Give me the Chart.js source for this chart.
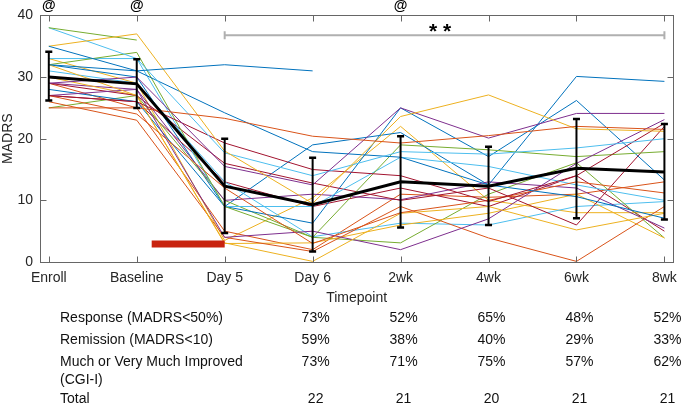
<!DOCTYPE html>
<html>
<head>
<meta charset="utf-8">
<script src="https://cdn.jsdelivr.net/npm/chart.js@4.4.1/dist/chart.umd.min.js"></script>
<style>
  html, body { margin: 0; padding: 0; background: #fff; }
</style>
</head>
<body>
<canvas id="MadrsChart" width="685" height="405"></canvas>
<script>
var Timepoints = ['Enroll', 'Baseline', 'Day 5', 'Day 6', '2wk', '4wk', '6wk', '8wk'];

// group mean and error bar ends
var MeanMadrs = [30, 28.9, 12.3, 9.3, 13, 12.3, 15.2, 14.6];
var ErrLow = [26.2, 25, 4.7, 1.7, 5.6, 6.0, 7.1, 6.9];
var ErrHigh = [34.1, 32.9, 20, 16.9, 20.4, 18.7, 23.2, 22.4];

// individual subjects (null = missing visit)
var Subjects = [
  [35, 31, 32, 31, null, null, null, null],
  [25, 25, 23.3, 20.4, 19.3, 20.5, 22, 21.5],
  [35, 37, 18, 9.5, 23.6, 27.1, 21.6, 21.2],
  [29, 30, 15.5, 12.5, 25, 20.1, 24.1, 24.1],
  [38, 36, null, null, null, null, null, null],
  [38, 33, 17.7, 14, 17.9, 17.5, 18.5, 20],
  [27, 26, 19.3, 15, 14, 9.8, 14, 22.5],
  [32, 31, 24.2, 17.9, 17, 12.5, 10.6, 7.1],
  [27, 24, 12, 3, 8, 10, 13, 11.2],
  [32, 27, 3.1, 0.1, 7.9, 9, 5.2, 7.9],
  [27, 28, 4, 5, 2, 7, 16, 23.1],
  [32, 34, 9, 4, 19, 18.2, 17.1, 17.9],
  [33, 33, 9, 9, 17, 15.5, 12.5, 10],
  [29, 27, 16, 12.8, 10, 12, 6, 22],
  [28, 26, 9, 6.3, 25, 17.1, 26.2, 13.3],
  [26, 23, 4, 1.7, 9, 3.9, 0.1, 9],
  [30, 27, 3, 3.1, 6, 7.9, 11, 3.9],
  [29, 28, 10, 11, 10.1, 13, 12, 5.5],
  [25, 27, 10, 4, 3.1, 11, 16.1, 3.9],
  [31, 29, 13, 4.1, 6.3, 6, 9, 9.8],
  [27, 26, 13, 9, 12, 9, 14, 5],
  [32, 30, 9, 19, 21, 12.5, 30.1, 29.3],
  [29, 25, 5, 2, 11, 10.5, 11, 13],
  [33, 29, 3.5, 10.4, 22, 10, 8, 8]
];
var LineColors = ['#0072BD', '#D95319', '#EDB120', '#7E2F8E', '#77AC30', '#4DBEEE', '#A2142F'];

// dosing bar and significance marks
var DoseBarX = [1.17, 2];
var DoseBarY = 2.9;
var AtMarks = [0, 1, 4];
var BracketX = [2, 7];
var BracketY = 36.8;

// table under the plot
var TableCols = [3, 4, 5, 6, 7];
var Response = ['73%', '52%', '65%', '48%', '52%'];
var Remission = ['59%', '38%', '40%', '29%', '33%'];
var Improved = ['73%', '71%', '75%', '57%', '62%'];
var Totals = ['22', '21', '20', '21', '21'];

var FONT = "'Liberation Sans', Arial, Helvetica, sans-serif";
var AXIS = '#262626';

function toPoints(arr) {
  return arr.map(function (v, i) { return { x: i, y: v }; });
}

var datasets = [{
  data: toPoints(MeanMadrs),
  borderColor: '#000',
  borderWidth: 3,
  pointRadius: 0
}, {
  data: [{ x: DoseBarX[0], y: DoseBarY }, { x: DoseBarX[1], y: DoseBarY }],
  borderColor: '#C8230F',
  borderWidth: 7,
  borderCapStyle: 'butt',
  pointRadius: 0
}];
Subjects.forEach(function (s, i) {
  datasets.push({
    data: toPoints(s),
    borderColor: LineColors[i % LineColors.length],
    borderWidth: 1,
    pointRadius: 0,
    spanGaps: false
  });
});

var extras = {
  id: 'extras',
  afterDatasetsDraw: function (chart) {
    var ctx = chart.ctx;
    var x = chart.scales.x, y = chart.scales.y;
    var a = chart.chartArea;
    ctx.save();

    // error bars
    ctx.strokeStyle = '#000';
    for (var i = 0; i < MeanMadrs.length; i++) {
      var px = x.getPixelForValue(i);
      var lo = y.getPixelForValue(ErrLow[i]);
      var hi = y.getPixelForValue(ErrHigh[i]);
      ctx.lineWidth = 2;
      ctx.beginPath();
      ctx.moveTo(px, lo); ctx.lineTo(px, hi);
      ctx.stroke();
      ctx.lineWidth = 2.5;
      ctx.beginPath();
      ctx.moveTo(px - 3.5, lo); ctx.lineTo(px + 3.5, lo);
      ctx.moveTo(px - 3.5, hi); ctx.lineTo(px + 3.5, hi);
      ctx.stroke();
    }

    // box and inward ticks
    ctx.strokeStyle = '#666';
    ctx.lineWidth = 1;
    var L = Math.round(a.left) + 0.5, R = Math.round(a.right) + 0.5;
    var T = Math.round(a.top) + 0.5, B = Math.round(a.bottom) + 0.5;
    ctx.strokeRect(L, T, R - L, B - T);
    ctx.beginPath();
    for (var k = 0; k < Timepoints.length; k++) {
      var tx = Math.round(x.getPixelForValue(k)) + 0.5;
      ctx.moveTo(tx, B); ctx.lineTo(tx, B - 6);
      ctx.moveTo(tx, T); ctx.lineTo(tx, T + 6);
    }
    for (var v = 0; v <= 40; v += 10) {
      var ty = Math.round(y.getPixelForValue(v)) + 0.5;
      ctx.moveTo(L, ty); ctx.lineTo(L + 6, ty);
      ctx.moveTo(R, ty); ctx.lineTo(R - 6, ty);
    }
    ctx.stroke();

    // significance bracket
    var by = y.getPixelForValue(BracketY);
    var bx0 = x.getPixelForValue(BracketX[0]), bx1 = x.getPixelForValue(BracketX[1]);
    ctx.strokeStyle = '#b0b0b0';
    ctx.lineWidth = 2;
    ctx.beginPath();
    ctx.moveTo(bx0, by); ctx.lineTo(bx1, by);
    ctx.moveTo(bx0, by - 4); ctx.lineTo(bx0, by + 4);
    ctx.moveTo(bx1, by - 4); ctx.lineTo(bx1, by + 4);
    ctx.stroke();

    ctx.fillStyle = '#000';
    ctx.textAlign = 'center';
    ctx.textBaseline = 'alphabetic';
    ctx.font = 'bold 21px ' + FONT;
    ctx.fillText('* *', x.getPixelForValue(4.45), 38);

    ctx.font = 'bold 14px ' + FONT;
    ctx.textBaseline = 'middle';
    AtMarks.forEach(function (m) {
      ctx.fillText('@', x.getPixelForValue(m), 6);
    });

    // table
    ctx.font = '14px ' + FONT;
    ctx.fillStyle = '#111';
    ctx.textAlign = 'left';
    ctx.fillText('Response (MADRS<50%)', 60, 318);
    ctx.fillText('Remission (MADRS<10)', 60, 340);
    ctx.fillText('Much or Very Much Improved', 60, 362);
    ctx.fillText('(CGI-I)', 60, 380);
    ctx.fillText('Total', 60, 399);
    ctx.textAlign = 'center';
    TableCols.forEach(function (c, j) {
      var cx = x.getPixelForValue(c) + 3;
      ctx.fillText(Response[j], cx, 318);
      ctx.fillText(Remission[j], cx, 340);
      ctx.fillText(Improved[j], cx, 362);
      ctx.fillText(Totals[j], cx, 399);
    });
    ctx.restore();
  }
};

var ctx = document.getElementById('MadrsChart').getContext('2d');
window.madrsChart = new Chart(ctx, {
  type: 'line',
  data: { datasets: datasets },
  options: {
    responsive: false,
    animation: false,
    devicePixelRatio: 1,
    layout: { padding: { top: 15, right: 10, bottom: 98, left: 0 } },
    plugins: { legend: { display: false }, tooltip: { enabled: false } },
    scales: {
      x: {
        type: 'linear',
        min: -0.1,
        max: 7.1,
        afterBuildTicks: function (s) {
          s.ticks = Timepoints.map(function (t, i) { return { value: i }; });
        },
        afterFit: function (s) { s.height = 45; },
        grid: { display: false, drawTicks: false },
        border: { display: false },
        ticks: {
          autoSkip: false,
          maxRotation: 0,
          padding: 8,
          color: AXIS,
          font: { family: FONT, size: 14 },
          callback: function (v) { return Timepoints[v]; }
        },
        title: {
          display: true,
          text: 'Timepoint',
          color: AXIS,
          font: { family: FONT, size: 14 },
          padding: { top: 0, bottom: 0 }
        }
      },
      y: {
        min: 0,
        max: 40,
        afterFit: function (s) { s.width = 40; },
        grid: { display: false, drawTicks: false },
        border: { display: false },
        ticks: {
          stepSize: 10,
          padding: 7,
          color: AXIS,
          font: { family: FONT, size: 14 }
        },
        title: {
          display: true,
          text: 'MADRS',
          color: AXIS,
          font: { family: FONT, size: 14 },
          padding: { top: 0, bottom: 0 }
        }
      }
    }
  },
  plugins: [extras]
});
</script>
</body>
</html>
